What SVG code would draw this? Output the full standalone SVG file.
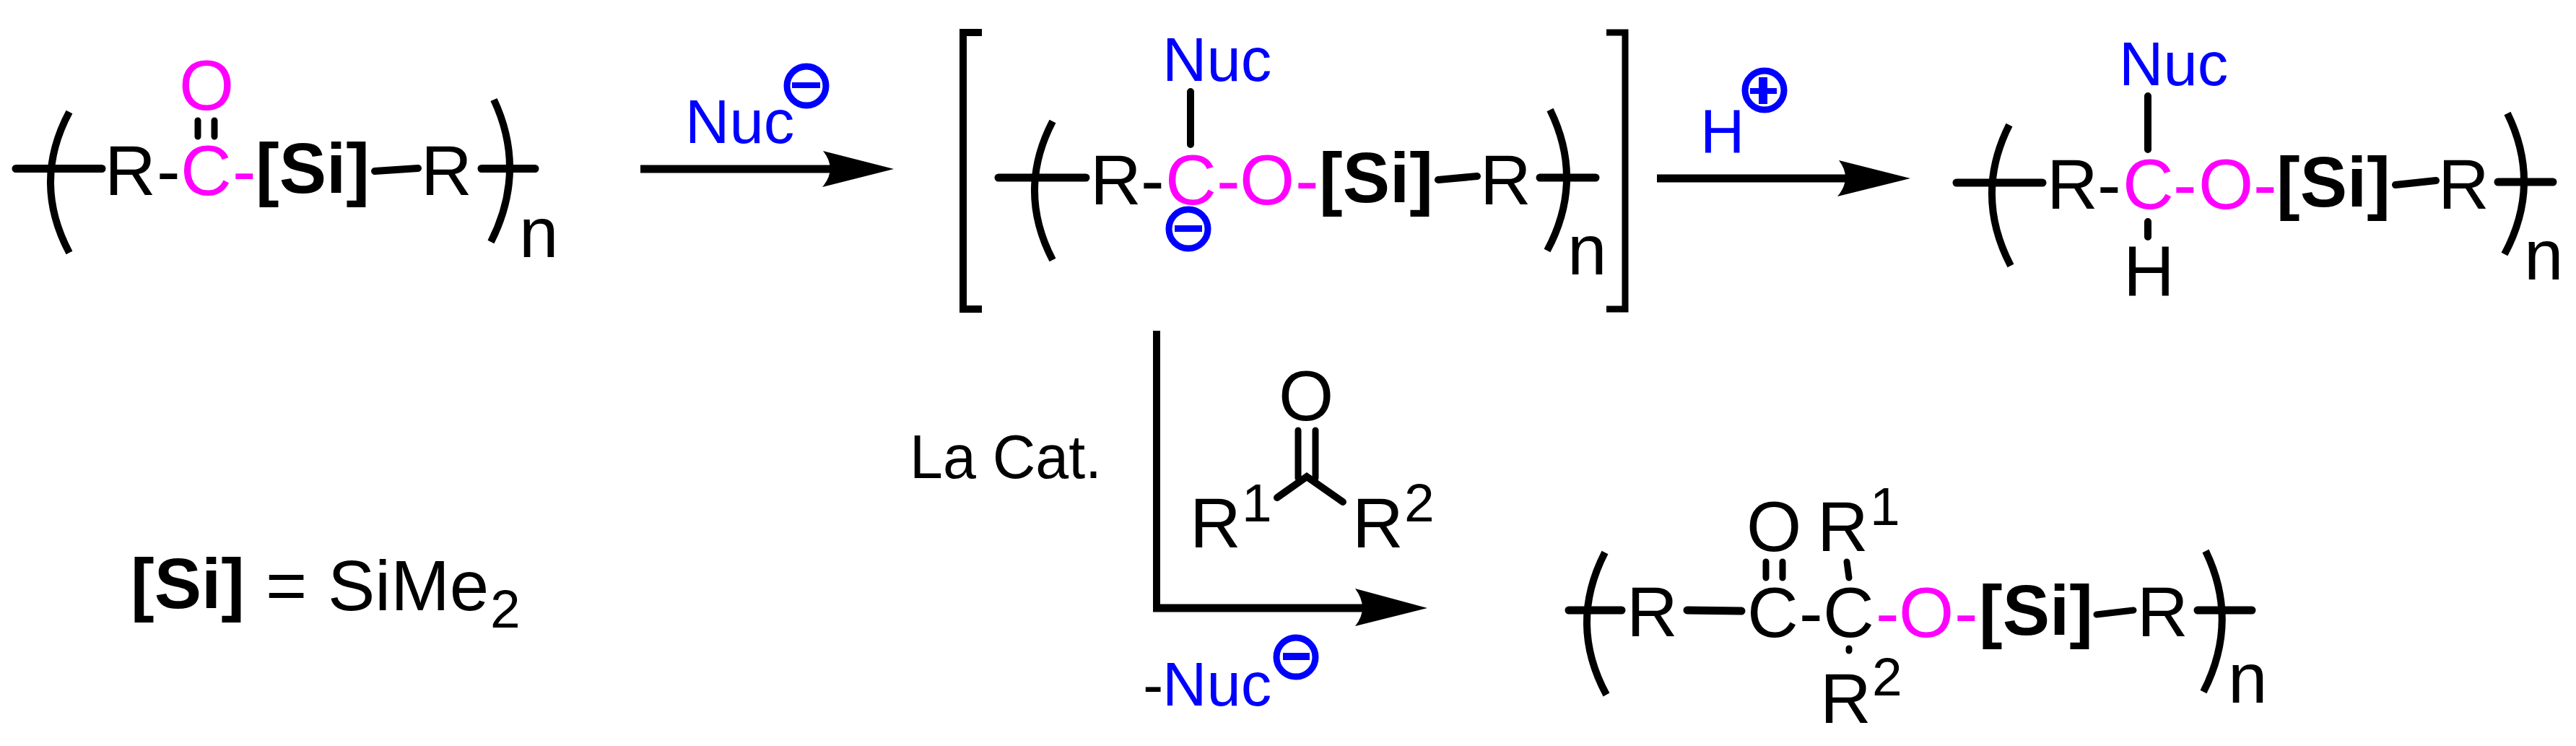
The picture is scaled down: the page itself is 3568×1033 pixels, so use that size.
<svg xmlns="http://www.w3.org/2000/svg" width="3568" height="1033" viewBox="0 0 3568 1033">
<defs>
<style>
text{font-family:"Liberation Sans",Arial,sans-serif;font-size:98px;fill:#000}
.b{font-weight:700}
.p{fill:#ff00ff}
.u{fill:#0000ff;font-size:85px}
.s{font-size:75px}
.c{font-size:85px}
.bond{fill:none;stroke:#000;stroke-width:10;stroke-linecap:round}
.thick{fill:none;stroke:#000;stroke-width:11;stroke-linecap:round}
.paren{fill:none;stroke:#000;stroke-width:10}
.charge{fill:none;stroke:#0000ff;stroke-width:9}
.sign{fill:#0000ff}
.shaft{fill:none;stroke:#000;stroke-width:11}
.head{fill:#000}
</style>
</defs>
<rect width="3568" height="1033" fill="#fff"/>

<g id="monomer-ketone">
<path class="thick" d="M22 233.500H141M667 233.500H741"/>
<path class="bond" d="M519 237L579 233"/>
<path class="bond" d="M274 167V189M297 167V189" style="stroke-width:9"/>
<path class="paren" d="M96 155Q44 252 96 350"/>
<path class="paren" d="M684 138Q730 236 680 335"/>
<text x="145" y="270">R</text><text x="217" y="270">-</text>
<text x="250" y="270" class="p">C</text><text x="322" y="270" class="p">-</text>
<text x="248" y="152" class="p">O</text>
<text x="354" y="267" class="b">[Si]</text><text x="583" y="270">R</text>
<text x="719" y="356">n</text>
</g>

<g id="intermediate">
<path class="paren" style="stroke-width:10" d="M1360 45H1334V428H1360"/>
<path class="paren" style="stroke-width:9" d="M2225 45H2251V428H2225"/>
<path class="thick" d="M1383 246H1504M2133 246H2210"/>
<path class="bond" d="M1649 127V200M1992 249L2046 244"/>
<path class="paren" d="M1458 168Q1408 264 1458 360"/>
<path class="paren" d="M2147 152Q2195 250 2143 347"/>
<text x="1610" y="112" class="u">Nuc</text>
<text x="1510" y="283">R</text><text x="1580" y="283">-</text>
<text x="1614" y="283" class="p">C</text><text x="1685" y="283" class="p">-</text>
<text x="1717" y="283" class="p">O</text><text x="1794" y="283" class="p">-</text>
<text x="1827" y="280" class="b">[Si]</text><text x="2050" y="283">R</text>
<text x="2171" y="380">n</text>
<circle class="charge" cx="1646" cy="317" r="27"/><rect class="sign" x="1627" y="312" width="38" height="9"/>
</g>

<g id="alcohol-product">
<path class="thick" d="M2710 253H2829M3460 252H3536"/>
<path class="bond" d="M2975 133V207M2975 307V328M3318 256L3374 250"/>
<path class="paren" d="M2783 173Q2734 270 2785 368"/>
<path class="paren" d="M3473 157Q3521 255 3469 352"/>
<text x="2935" y="118" class="u">Nuc</text>
<text x="2835" y="289">R</text><text x="2905" y="289">-</text>
<text x="2940" y="289" class="p">C</text><text x="3010" y="289" class="p">-</text>
<text x="3045" y="289" class="p">O</text><text x="3121" y="289" class="p">-</text>
<text x="3153" y="286" class="b">[Si]</text><text x="3377" y="289">R</text>
<text x="3496" y="387">n</text><text x="2941" y="409">H</text>
</g>

<g id="ketone-reagent">
<path class="bond" d="M1798 596V662M1822 596V662" style="stroke-width:9"/>
<path class="bond" d="M1769 689L1810 660L1860 695"/>
<text x="1771" y="582">O</text>
<text x="1648" y="758">R</text><text x="1720" y="722" class="s">1</text>
<text x="1873" y="758">R</text><text x="1945" y="722" class="s">2</text>
</g>

<g id="aldol-product">
<path class="thick" d="M2173 845H2246M3044 845H3119"/>
<path class="thick" d="M2337 845L2412 846"/>
<path class="bond" d="M2446 778V800M2469 778V800M2558 778L2561 800M2561 898V901M2904 851L2955 845" style="stroke-width:9"/>
<path class="paren" d="M2223 765Q2172 864 2225 962"/>
<path class="paren" d="M3055 763Q3102 860 3052 958"/>
<text x="2419" y="763">O</text><text x="2517" y="763">R</text><text x="2590" y="727" class="s">1</text>
<text x="2253" y="881">R</text>
<text x="2420" y="882">C</text><text x="2492" y="882">-</text>
<text x="2525" y="882">C</text><text x="2598" y="882" class="p">-</text>
<text x="2630" y="882" class="p">O</text><text x="2707" y="882" class="p">-</text>
<text x="2741" y="879" class="b">[Si]</text><text x="2960" y="881">R</text>
<text x="3086" y="973">n</text>
<text x="2521" y="1001">R</text><text x="2593" y="963" class="s">2</text>
</g>

<g id="si-legend">
<text x="181" y="842" class="b">[Si]</text>
<text x="368" y="845">=</text>
<text x="454" y="845">SiMe</text>
<text x="679" y="869" class="s">2</text>
</g>

<g id="connectors">
<path class="shaft" d="M887 234H1150"/>
<path class="head" d="M1140 209L1238 234L1139 259Q1160 234 1140 209Z"/>
<path class="shaft" d="M2295 247H2557"/>
<path class="head" d="M2547 222L2646 247L2545 272Q2566 247 2547 222Z"/>
<path class="shaft" style="stroke-width:10" d="M1602 458V842"/>
<path class="shaft" d="M1597 842H1889"/>
<path class="head" d="M1877 815L1977 842L1877 867Q1897 842 1877 815Z"/>
</g>

<g id="label-nuc-1">
<text x="949" y="198" class="u">Nuc</text>
<circle class="charge" cx="1117" cy="119" r="27"/><rect class="sign" x="1097" y="114" width="39" height="8"/>
</g>
<g id="label-h-plus">
<text x="2355" y="211" class="u">H</text>
<circle class="charge" cx="2444" cy="125" r="27"/>
<rect class="sign" x="2424" y="122" width="37" height="8"/><rect class="sign" x="2436" y="107" width="12" height="37"/>
</g>
<g id="label-la-cat"><text x="1260" y="662" class="c" textLength="266" lengthAdjust="spacingAndGlyphs">La Cat.</text></g>
<g id="label-nuc-2">
<text x="1583" y="977" class="c">-</text><text x="1610" y="977" class="u">Nuc</text>
<circle class="charge" cx="1795" cy="910" r="27"/><rect class="sign" x="1777" y="904" width="37" height="10"/>
</g>
</svg>
